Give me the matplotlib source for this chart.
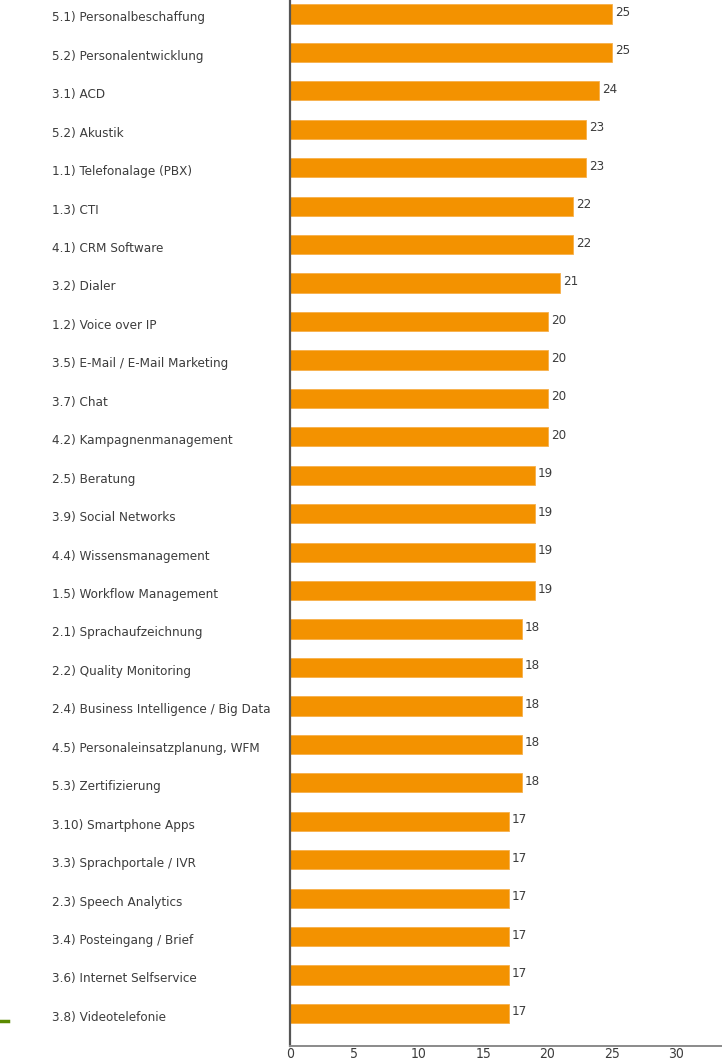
import matplotlib
matplotlib.use("Agg")
import matplotlib.pyplot as plt
from matplotlib.lines import Line2D
from matplotlib.transforms import blended_transform_factory

categories = [
    "5.1) Personalbeschaffung",
    "5.2) Personalentwicklung",
    "3.1) ACD",
    "5.2) Akustik",
    "1.1) Telefonalage (PBX)",
    "1.3) CTI",
    "4.1) CRM Software",
    "3.2) Dialer",
    "1.2) Voice over IP",
    "3.5) E-Mail / E-Mail Marketing",
    "3.7) Chat",
    "4.2) Kampagnenmanagement",
    "2.5) Beratung",
    "3.9) Social Networks",
    "4.4) Wissensmanagement",
    "1.5) Workflow Management",
    "2.1) Sprachaufzeichnung",
    "2.2) Quality Monitoring",
    "2.4) Business Intelligence / Big Data",
    "4.5) Personaleinsatzplanung, WFM",
    "5.3) Zertifizierung",
    "3.10) Smartphone Apps",
    "3.3) Sprachportale / IVR",
    "2.3) Speech Analytics",
    "3.4) Posteingang / Brief",
    "3.6) Internet Selfservice",
    "3.8) Videotelefonie",
]
values = [25, 25, 24, 23, 23, 22, 22, 21, 20, 20, 20, 20, 19, 19, 19, 19,
          18, 18, 18, 18, 18, 17, 17, 17, 17, 17, 17]
xticks = [0, 5, 10, 15, 20, 25, 30]

bar_color = "#F39200"
text_color = "#3c3c3c"
txt = dict(family="DejaVu Sans", stretch="condensed", color=text_color)

W, H = 722, 1064
fig = plt.figure(figsize=(W / 100, H / 100), dpi=100)
ax = fig.add_axes([290 / W, 18 / H, 1 - 290 / W, 1 - 18 / H])

y = list(range(len(categories)))
ax.barh(y, values, height=0.5, color=bar_color, edgecolor="#F7B04A", linewidth=0.6)
ax.set_ylim(len(categories) - 1 + 0.845, -0.364)
ax.set_xlim(0, 33.55)

for yi, v in zip(y, values):
    ax.text(v + 0.25, yi - 0.04, str(v), va="center", ha="left",
            fontsize=9.5, **txt)

# category names sit left-aligned in the margin
trans = blended_transform_factory(fig.transFigure, ax.transData)
for yi, name in zip(y, categories):
    ax.text(52 / W, yi + 0.1, name, va="center", ha="left",
            fontsize=9.6, transform=trans, **txt)

ax.set_yticks([])
ax.set_xticks(xticks)
ax.set_xticklabels([str(t) for t in xticks], fontsize=10, **txt)
ax.tick_params(axis="x", length=0, pad=1)
for side in ("top", "right"):
    ax.spines[side].set_visible(False)
ax.spines["left"].set_color("#555555")
ax.spines["left"].set_linewidth(1.6)
ax.spines["bottom"].set_color("#8a8a8a")
ax.spines["bottom"].set_linewidth(1.4)

# small green marker on the left edge
fig.add_artist(Line2D([0, 8 / W], [1 - 1021 / H, 1 - 1021 / H],
                      color="#5a8a00", linewidth=2.5, transform=fig.transFigure))

fig.savefig("out.png", dpi=100)
